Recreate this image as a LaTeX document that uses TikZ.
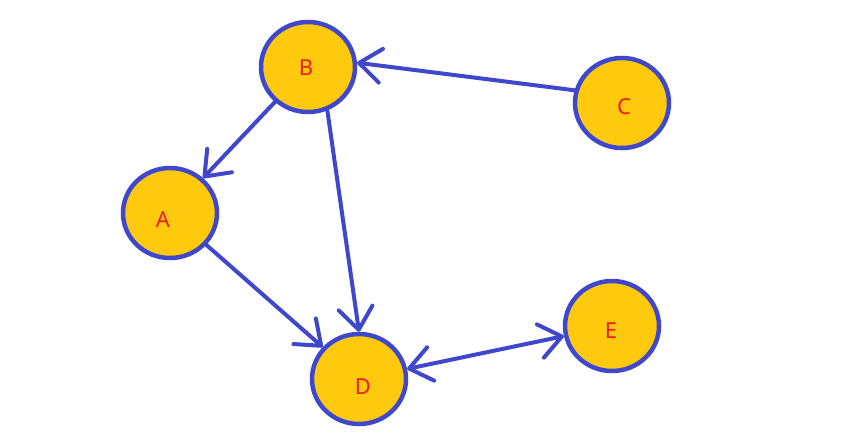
\documentclass[tikz,border=0pt]{standalone}
\usepackage{fontspec}
\setmainfont{Noto Sans}
\usepackage{tikz}
\usetikzlibrary{arrows.meta, shapes.geometric}
\definecolor{paintblue}{HTML}{3F48CC}
\definecolor{paintgold}{HTML}{FFC90E}
\definecolor{paintred}{HTML}{ED1C24}

\begin{document}
\begin{tikzpicture}[x=1pt, y=-1pt,
    vertex/.style={ellipse, draw=paintblue, fill=paintgold, line width=4.5pt,
        minimum width=94pt, minimum height=90pt, inner sep=0pt},
    lbl/.style={text=paintred, font=\fontsize{22}{25}\selectfont, inner sep=0pt},
    edge/.style={draw=paintblue, line width=4pt, line cap=round,
        -{Straight Barb[length=22pt, width=34pt, round]}}]

\useasboundingbox (0,0) rectangle (846,439);

% Vertices
\node[vertex, label={[lbl, xshift=-2pt, yshift=-1pt]center:B}] (B) at (308,67) {};
\node[vertex, label={[lbl, xshift=2pt, yshift=-4pt]center:C}] (C) at (622,103) {};
\node[vertex, label={[lbl, xshift=-7pt, yshift=-7pt]center:A}] (A) at (170,213) {};
\node[vertex, label={[lbl, xshift=4pt, yshift=-8pt]center:D}] (D) at (359,379) {};
\node[vertex, label={[lbl, xshift=-1pt, yshift=-5pt]center:E}] (E) at (612,326) {};

% Edges
\draw[edge] (C.165) -- (B.5);
\draw[edge] (B) -- (A);
\draw[edge] (B.-66) -- (D.north);
\draw[edge] (A) -- (D);
\draw[edge, {Straight Barb[length=22pt, width=34pt, round]}-{Straight Barb[length=22pt, width=34pt, round]}] (D) -- (E);
\end{tikzpicture}
\end{document}
